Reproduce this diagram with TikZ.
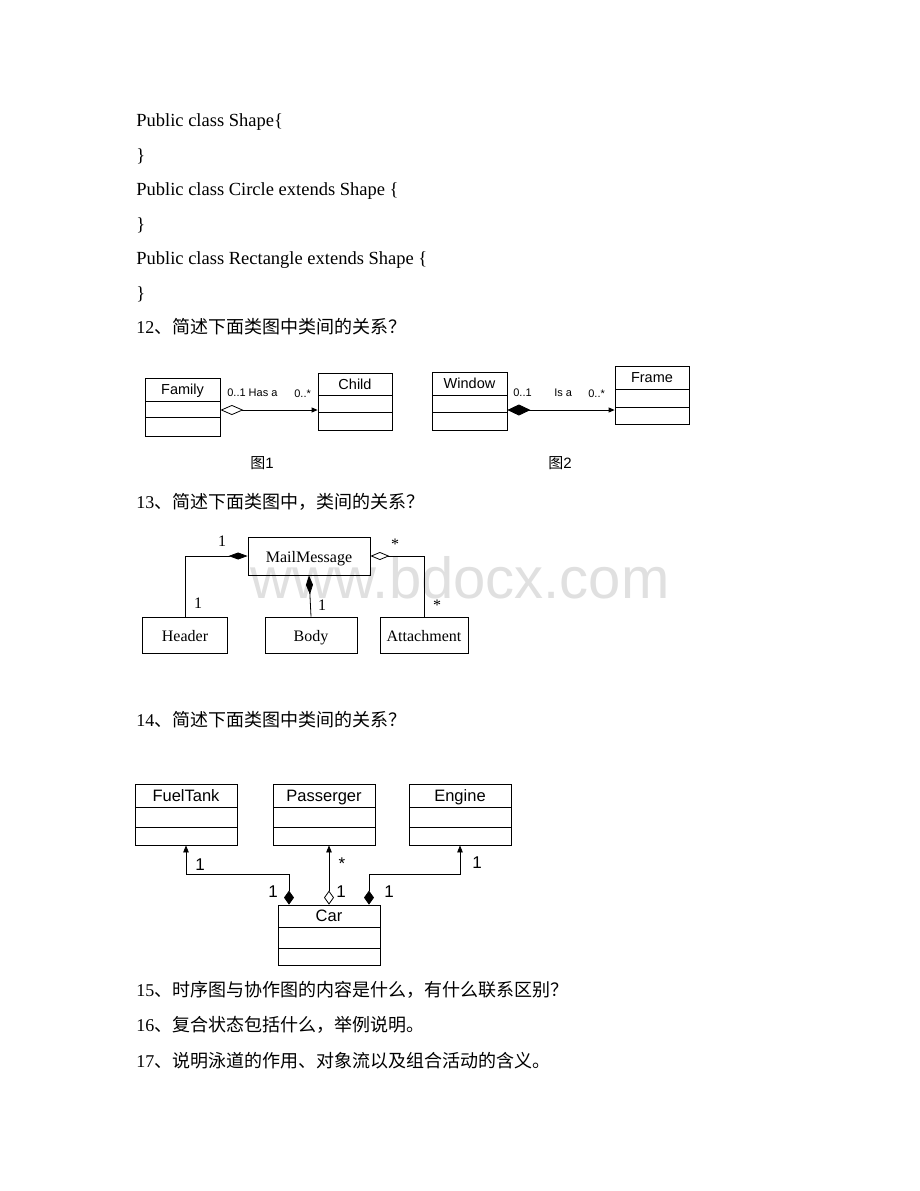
\documentclass[tikz,border=0pt]{standalone}
\usepackage{fontspec}
\setmainfont{Liberation Serif}
\newfontfamily\cjk{Noto Sans CJK SC}
\newfontfamily\arialf{Liberation Sans}
\usetikzlibrary{arrows.meta,fit,calc}
\def\toff{5}
\newcommand{\umlbox}[8]{%
  \coordinate (#1-nw) at (#2,#4);
  \coordinate (#1-se) at (#3,#7);
  \node[draw, inner sep=0pt, fit=(#1-nw)(#1-se)] (#1) {};
  \draw (#2,#5) -- (#3,#5);
  \draw (#2,#6) -- (#3,#6);
  \node[anchor=base, inner sep=0pt] (#1-t) at ({(#2+#3)/2},{(#4+#5)/2+\toff}) {#8};}
\tikzset{
  txt/.style={anchor=base west, inner sep=0pt, font=\fontsize{18.5}{20}\selectfont},
  qtxt/.style={anchor=base west, inner sep=0pt},
  lbl/.style={inner sep=0pt},
  ln/.style={line width=0.8pt},
  tbox/.style={draw, inner sep=0pt, text height=14pt, text depth=1.5pt},
}
\newcommand{\q}[2]{{\fontsize{18}{20}\selectfont #1}{\cjk\fontsize{18}{20}\selectfont #2}}
\begin{document}
\begin{tikzpicture}[x=1pt,y=-1pt, line width=0.7pt]
\useasboundingbox (0,0) rectangle (920,1191);
\fill[white] (0,0) rectangle (920,1191);
% watermark
\node[anchor=center, text=black!12, font=\arialf\fontsize{58}{60}\selectfont] (wm) at (460,578) {www.bdocx.com};
% code lines
\node[txt] (l1) at (136,126) {Public class Shape\{};
\node[txt] (l2) at (136,161) {\}};
\node[txt] (l3) at (136,195) {Public class Circle extends Shape \{};
\node[txt] (l4) at (136,230) {\}};
\node[txt] (l5) at (136,264) {Public class Rectangle extends Shape \{};
\node[txt] (l6) at (136,299) {\}};
% questions
\node[qtxt] (q12) at (136,333) {\q{12}{、简述下面类图中类间的关系？}};
\node[qtxt] (q13) at (136,508) {\q{13}{、简述下面类图中，类间的关系？}};
\node[qtxt] (q14) at (136,726) {\q{14}{、简述下面类图中类间的关系？}};
\node[qtxt] (q15) at (136,996) {\q{15}{、时序图与协作图的内容是什么，有什么联系区别？}};
\node[qtxt] (q16) at (136,1031) {\q{16}{、复合状态包括什么，举例说明。}};
\node[qtxt] (q17) at (136,1067) {\q{17}{、说明泳道的作用、对象流以及组合活动的含义。}};

% ---------- Figure 1 and 2 ----------
\def\toff{5.2}
\begin{scope}[font=\arialf\fontsize{14.5}{16}\selectfont, line width=0.8pt]
\umlbox{family}{145}{220}{378}{401}{417}{436}{Family}
\umlbox{child}{318}{392}{373}{395}{412}{430}{Child}
\umlbox{window}{432}{507}{372}{395}{412}{430}{Window}
\umlbox{frame}{615}{689}{366}{389}{407}{424}{Frame}
\end{scope}
\draw[ln, {Diamond[open,length=23pt,width=10pt]}-{Triangle[length=6pt,width=5pt]}]
  (family.east |- 0,410) -- (child.west |- 0,410);
\draw[ln, {Diamond[length=23pt,width=11pt]}-{Triangle[length=6pt,width=5pt]}]
  (window.east |- 0,410) -- (frame.west |- 0,410);
\begin{scope}[font=\arialf\fontsize{11}{12}\selectfont]
\node[lbl, anchor=west] (f1a) at (227,393) {0..1 Has a};
\node[lbl, anchor=west] (f1b) at (294,394) {0..*};
\node[lbl, anchor=west] (f2a) at (513,393) {0..1};
\node[lbl, anchor=west] (f2b) at (554,393) {Is a};
\node[lbl, anchor=west] (f2c) at (588,394) {0..*};
\end{scope}
\node[lbl] (cap1) at (262,463) {{\cjk\fontsize{15}{16}\selectfont 图}{\arialf\fontsize{15}{16}\selectfont 1}};
\node[lbl] (cap2) at (560,463) {{\cjk\fontsize{15}{16}\selectfont 图}{\arialf\fontsize{15}{16}\selectfont 2}};

% ---------- Figure 13 ----------
\begin{scope}[font=\fontsize{16}{18}\selectfont, line width=0.8pt]
\node[tbox, minimum width=122pt, minimum height=38pt] (mail) at (309,556) {MailMessage};
\node[tbox, minimum width=85pt, minimum height=36pt] (header) at (185,635) {Header};
\node[tbox, minimum width=92pt, minimum height=36pt] (body) at (311,635) {Body};
\node[tbox, minimum width=88pt, minimum height=36pt] (attach) at (424,635) {Attachment};
\end{scope}
\draw[ln, {Diamond[length=19pt,width=7pt]}-] (mail.west) -| (header.north);
\draw[ln, {Diamond[length=19pt,width=7pt]}-] (mail.south) -- (body.north);
\draw[ln, {Diamond[open,length=19pt,width=8pt]}-] (mail.east) -| (attach.north);
\begin{scope}[font=\fontsize{16}{18}\selectfont]
\node[lbl] (m1) at (222,541) {1};
\node[lbl] (m2) at (198,603) {1};
\node[lbl] (m3) at (322,605) {1};
\node[lbl] (m4) at (395,544) {*};
\node[lbl] (m5) at (437,605) {*};
\end{scope}

% ---------- Figure 14 ----------
\def\toff{5.9}
\begin{scope}[font=\arialf\fontsize{16.5}{18}\selectfont, line width=0.8pt]
\umlbox{fuel}{135}{237}{784}{807}{827}{845}{FuelTank}
\umlbox{pass}{273}{375}{784}{807}{827}{845}{Passerger}
\umlbox{engine}{409}{511}{784}{807}{827}{845}{Engine}
\umlbox{car}{278}{380}{905}{927}{948}{965}{Car}
\end{scope}
\coordinate (cl) at ($(car.north)+(-40,0)$);
\coordinate (cr) at ($(car.north)+(40,0)$);
\draw[ln, {Diamond[length=14pt,width=10pt]}-{Triangle[length=7pt,width=5.5pt]}]
  (cl) |- ($(fuel.south)+(0,29)$) -- (fuel.south);
\draw[ln, {Diamond[open,length=14pt,width=10pt]}-{Triangle[length=7pt,width=5.5pt]}]
  (car.north) -- (car.north |- pass.south);
\draw[ln, {Diamond[length=14pt,width=10pt]}-{Triangle[length=7pt,width=5.5pt]}]
  (cr) |- ($(engine.south)+(0,29)$) -- (engine.south);
\begin{scope}[font=\arialf\fontsize{17}{18}\selectfont]
\node[lbl] (c1) at (200,865) {1};
\node[lbl] (c2) at (342,864) {*};
\node[lbl] (c3) at (477,863) {1};
\node[lbl] (c4) at (273,892) {1};
\node[lbl] (c5) at (341,892) {1};
\node[lbl] (c6) at (389,892) {1};
\end{scope}
\end{tikzpicture}
\end{document}
